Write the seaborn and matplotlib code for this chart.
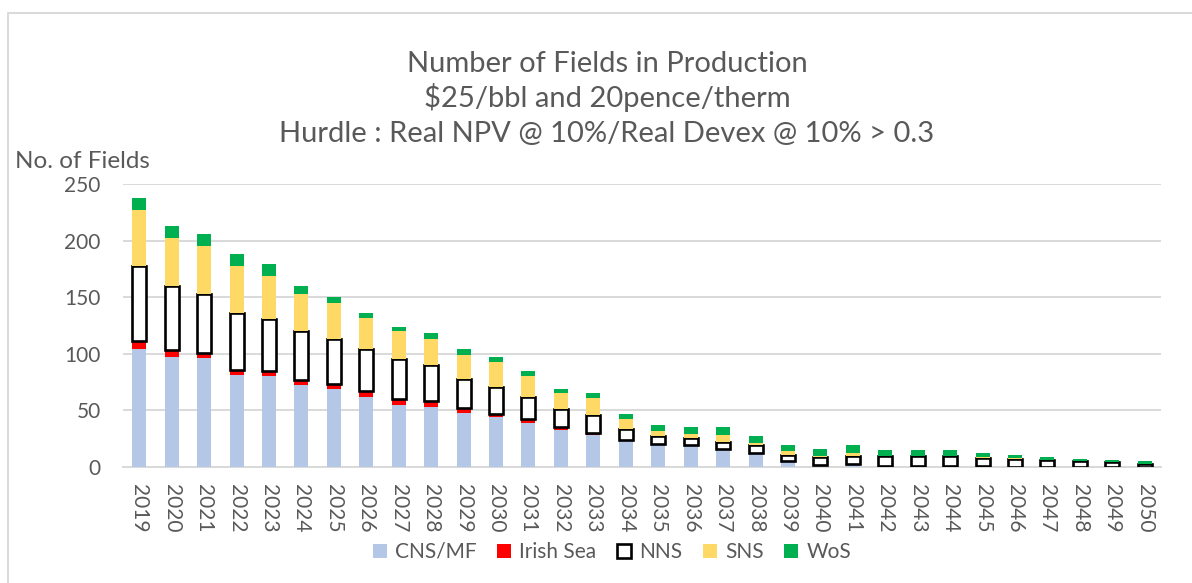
import numpy as np
import pandas as pd
import matplotlib
matplotlib.use("Agg")
import matplotlib.pyplot as plt
from matplotlib.patches import Patch
from matplotlib.lines import Line2D
import seaborn as sns

# Dados (número de campos por região)
anos = [str(a) for a in range(2019, 2051)]
cns_mf = [104, 97, 96, 81, 80, 72, 69, 62, 55, 53, 48, 44, 39, 33, 28, 24,
          20, 19, 16, 12, 5, 2, 3, 1, 1, 1, 1, 0, 0, 0, 0, 0]
irish_sea = [7, 6, 5, 5, 5, 5, 4, 5, 5, 5, 4, 3, 3, 2, 2, 0,
             0, 0, 0, 0, 0, 0, 0, 0, 0, 0, 0, 0, 0, 0, 0, 0]
nns = [67, 57, 52, 50, 46, 43, 40, 37, 35, 32, 26, 24, 20, 16, 16, 10,
       7, 7, 6, 7, 6, 7, 7, 9, 9, 9, 7, 7, 6, 5, 4, 3]
sns_gas = [49, 42, 42, 42, 38, 33, 32, 28, 25, 23, 21, 22, 18, 14, 15, 8,
           5, 3, 6, 2, 3, 1, 2, 0, 0, 0, 1, 1, 0, 0, 0, 0]
wos = [11, 11, 11, 10, 10, 7, 5, 4, 4, 5, 5, 4, 5, 4, 4, 5,
       5, 6, 7, 6, 5, 6, 7, 5, 5, 5, 3, 3, 3, 2, 2, 2]

series = ["CNS/MF", "Irish Sea", "NNS", "SNS", "WoS"]
cores = {
    "CNS/MF": "#B4C7E7",
    "Irish Sea": "#FF0000",
    "NNS": "#FFFFFF",
    "SNS": "#FFD966",
    "WoS": "#00B050",
}

df = pd.DataFrame({
    "Ano": anos,
    "CNS/MF": cns_mf,
    "Irish Sea": irish_sea,
    "NNS": nns,
    "SNS": sns_gas,
    "WoS": wos,
})

sns.set_theme(style="white")
plt.rcParams["font.family"] = ["Lato", "DejaVu Sans"]
cinza = "#595959"

fig = plt.figure(figsize=(11.92, 5.83), dpi=100)
W, H = 1192, 583
ax = fig.add_axes([123 / W, 1 - 467 / H, (1161 - 123) / W, (467 - 184) / H])

# Barras empilhadas
base = np.zeros(len(anos))
for s in series:
    if s == "NNS":
        estilo = dict(edgecolor="black", linewidth=1.9)
    else:
        estilo = dict(edgecolor="none", linewidth=0)
    sns.barplot(data=df, x="Ano", y=s, color=cores[s], width=0.43,
                bottom=base.copy(), ax=ax, saturation=1, zorder=3, **estilo)
    base = base + df[s].values

ax.set_xlim(-0.5, len(anos) - 0.5)
ax.set_ylim(0, 250)
ax.set_yticks(range(0, 251, 50))
ax.yaxis.grid(True, color="#D9D9D9", linewidth=1.4, zorder=0)
ax.set_axisbelow(True)
for lado in ["top", "right", "left"]:
    ax.spines[lado].set_visible(False)
ax.spines["bottom"].set_color("#D9D9D9")
ax.spines["bottom"].set_linewidth(1.4)
ax.set_xlabel("")
ax.set_ylabel("")
ax.tick_params(axis="both", length=0, labelsize=15, labelcolor=cinza)
ax.tick_params(axis="y", pad=16)
ax.tick_params(axis="x", pad=12)
plt.setp(ax.get_xticklabels(), rotation=-90, ha="center", va="top")

# Títulos
fig.text(607 / W, 1 - 72 / H, "Number of Fields in Production",
         ha="center", va="baseline", fontsize=21, color=cinza)
fig.text(607 / W, 1 - 107 / H, "$25/bbl and 20pence/therm",
         ha="center", va="baseline", fontsize=21, color=cinza)
fig.text(607 / W, 1 - 142 / H, "Hurdle : Real NPV @ 10%/Real Devex @ 10% > 0.3",
         ha="center", va="baseline", fontsize=21, color=cinza)
fig.text(15 / W, 1 - 162 / H, "No. of Fields", ha="left", va="center",
         fontsize=17.5, color=cinza)

# Legenda
handles = []
for s in series:
    if s == "NNS":
        handles.append(Patch(facecolor="white", edgecolor="black", linewidth=1.9, label=s))
    else:
        handles.append(Patch(facecolor=cores[s], edgecolor="none", label=s))
fig.legend(handles=handles, loc="center", ncol=5, frameon=False,
           bbox_to_anchor=(612 / W, 1 - 552 / H), fontsize=15,
           labelcolor=cinza, handlelength=0.65, handleheight=0.65,
           handletextpad=0.4, columnspacing=1.0)

# Moldura do gráfico
fig.add_artist(Line2D([8 / W, 8 / W], [0, 1 - 13 / H], transform=fig.transFigure,
                      color="#D9D9D9", linewidth=1.4))
fig.add_artist(Line2D([8 / W, 1], [1 - 13 / H, 1 - 13 / H], transform=fig.transFigure,
                      color="#D9D9D9", linewidth=1.4))

fig.savefig("out.png", dpi=100, facecolor="white")
